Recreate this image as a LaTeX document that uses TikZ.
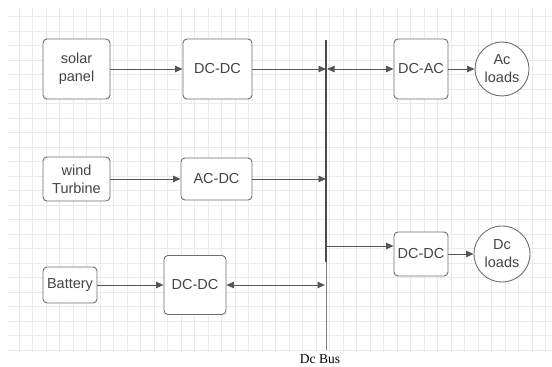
\documentclass[tikz,border=0pt]{standalone}
\usepackage{fontspec}
\setmainfont{Liberation Sans}
\newfontfamily\busfont{Liberation Serif}
\usetikzlibrary{arrows.meta}
\definecolor{GridLine}{HTML}{EAEAEA}
\definecolor{BoxEdge}{HTML}{6E6E6E}
\definecolor{WireInk}{HTML}{555555}
\definecolor{TextInk}{HTML}{444444}

\begin{document}
\begin{tikzpicture}[
      x=1pt,y=1pt,
      >={Triangle[length=7.5pt,width=6.5pt]},
      gridline/.style={draw=GridLine,line width=0.6pt},
      conv/.style={draw=BoxEdge,line width=0.9pt,rounded corners=4pt,fill=white,
        inner sep=0pt,align=center,text=TextInk,font=\fontsize{14.5}{18}\selectfont},
      load/.style={circle,draw=BoxEdge,line width=0.9pt,fill=white,inner sep=0pt,
        align=center,text=TextInk,font=\fontsize{14.5}{18}\selectfont},
      wire/.style={->,draw=WireInk,line width=0.9pt},
      buswire/.style={draw=WireInk!90!black,line width=1.3pt}
    ]
    \path[use as bounding box] (0,0) rectangle (552,367);
    % background grid
    \foreach \gx in {1,...,40}
      \draw[gridline] ({5.5+13.5*\gx},15) -- ({5.5+13.5*\gx},359);
    \foreach \gy in {0,...,23}
      \draw[gridline] (8,{17+14.5*\gy}) -- (552,{17+14.5*\gy});

    % sources and converters
    \node[conv,minimum width=67,minimum height=60] (solar) at (76.5,298) {solar\\panel};
    \node[conv,minimum width=69,minimum height=60] (dcdcpv) at (217.5,298) {DC-DC};
    \node[conv,minimum width=67,minimum height=44] (wind) at (76.5,188) {wind\\Turbine};
    \node[conv,minimum width=71,minimum height=42] (acdc) at (216.5,188) {AC-DC};
    \node[conv,minimum width=54,minimum height=36] (batt) at (70,82) {Battery};
    \node[conv,minimum width=62,minimum height=59] (dcdcbat) at (195,82) {DC-DC};

    % bus
    \coordinate (bustop) at (326,327);
    \coordinate (busmid) at (326,105);
    \coordinate (busbot) at (326,17);
    \coordinate (bustap) at (326,121);
    \draw[buswire] (bustop) -- (busmid);
    \draw[draw=WireInk!75,line width=1pt] (busmid) -- (busbot);
    \node[font=\busfont\fontsize{13.5}{15}\selectfont,inner sep=0pt,anchor=base]
      (buslabel) at (320,3) {Dc Bus};

    % loads side
    \node[conv,minimum width=54,minimum height=60] (dcac) at (421,298) {DC-AC};
    \node[load,minimum size=54] (acload) at (502,298) {Ac\\loads};
    \node[conv,minimum width=54,minimum height=44] (dcdcload) at (421,113) {DC-DC};
    \node[load,minimum size=56] (dcload) at (502,113) {Dc\\loads};

    \draw[wire] (solar) -- (dcdcpv);
    \draw[wire] (dcdcpv) -- (dcdcpv -| bustop);
    \draw[wire,<->] ([xshift=1pt]dcac -| bustop) -- (dcac);
    \draw[wire] (dcac) -- (acload);
    \draw[wire] (wind) -- (acdc);
    \draw[wire] (acdc) -- (acdc -| bustop);
    \draw[wire] (bustap) -- (bustap -| dcdcload.west);
    \draw[wire] (dcdcload) -- (dcload);
    \draw[wire] (batt) -- (dcdcbat);
    \draw[wire,<->] (dcdcbat) -- ([xshift=-1pt]dcdcbat -| busbot);
  \end{tikzpicture}
\end{document}
